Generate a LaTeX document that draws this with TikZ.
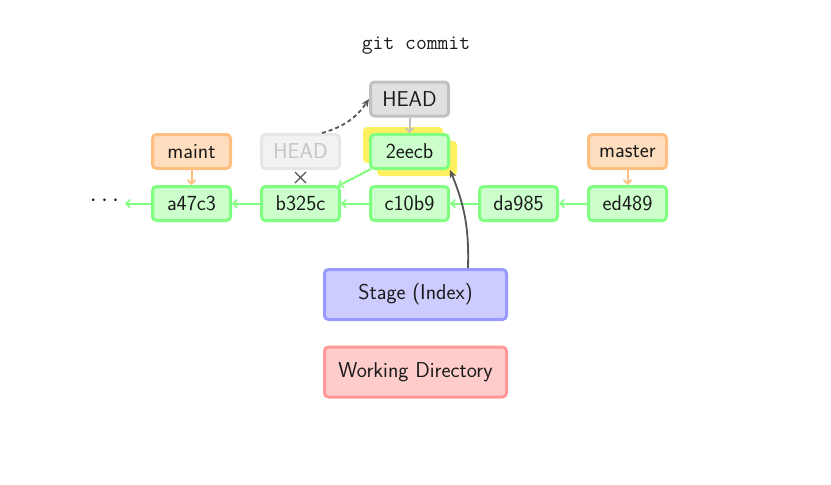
\documentclass[tikz,border=0pt]{standalone}
\usetikzlibrary{arrows.meta}
\renewcommand{\familydefault}{\sfdefault}
\definecolor{gB}{HTML}{80FF80}\definecolor{gF}{HTML}{CCFFCC}
\definecolor{oB}{HTML}{FFBF80}\definecolor{oF}{HTML}{FFDDBF}
\definecolor{hB}{HTML}{C0C0C0}\definecolor{hF}{HTML}{E0E0E0}
\definecolor{fB}{HTML}{E6E6E6}\definecolor{fF}{HTML}{F2F2F2}\definecolor{fT}{HTML}{C4C4C4}
\definecolor{bB}{HTML}{9999FF}\definecolor{bF}{HTML}{CCCCFF}
\definecolor{rB}{HTML}{FF9999}\definecolor{rF}{HTML}{FFCCCC}
\definecolor{yel}{HTML}{FFF060}
\definecolor{txt}{HTML}{1A1A1A}
\definecolor{dk}{HTML}{555555}
\tikzset{
  box/.style={rounded corners=4pt,line width=3pt,minimum width=78pt,minimum height=34pt,inner sep=0pt,text=txt,font=\fontsize{21.5}{24}\selectfont},
  commitbox/.style={box,draw=gB,fill=gF},
  branchbox/.style={box,draw=oB,fill=oF},
  headbox/.style={box,draw=hB,fill=hF},
  fadedbox/.style={box,draw=fB,fill=fF,text=fT},
  areabox/.style={box,minimum width=182pt,minimum height=50pt},
  barb/.style={-{Straight Barb[length=4pt,width=8pt,line width=1.6pt]}},
  glink/.style={color=gB,line width=2pt,barb},
  olink/.style={color=oB,line width=2pt,barb},
  hlink/.style={color=hB,line width=2pt,barb},
  dlink/.style={color=dk,line width=1.8pt,-{Stealth[length=8pt,width=7pt]}},
}
\begin{document}
\begin{tikzpicture}[x=1pt,y=-1pt]
\useasboundingbox (0,0) rectangle (831,485);
\node[font=\ttfamily\fontsize{21}{24}\selectfont,text=txt] (title) at (416,46) {git commit};
% yellow highlight behind 2eecb
\fill[yel,rounded corners=4pt] (363,127) rectangle (443,163);
\fill[yel,rounded corners=4pt] (377,141) rectangle (457,176);
\node[commitbox] (c2eecb) at (409.5,151.5) {2eecb};
\node[headbox] (head) at (409.5,99) {HEAD};
\node[fadedbox] (oldhead) at (300.5,151.5) {HEAD};
\node[branchbox] (maint) at (191.5,151.5) {maint};
\node[branchbox] (master) at (627.5,151.5) {master};
\node[commitbox] (a47c3) at (191.5,203.5) {a47c3};
\node[commitbox] (b325c) at (300.5,203.5) {b325c};
\node[commitbox] (c10b9) at (409.5,203.5) {c10b9};
\node[commitbox] (da985) at (518.5,203.5) {da985};
\node[commitbox] (ed489) at (627.5,203.5) {ed489};
\node[inner sep=0pt,text=txt,font=\fontsize{24.5}{26}\selectfont] (dots) at (104.5,200.5) {$\cdots$};
\node[areabox,draw=bB,fill=bF] (stage) at (415.5,294.5) {Stage (Index)};
\node[areabox,draw=rB,fill=rF] (work) at (415.5,372) {Working Directory};
\coordinate (cross) at (300.5,177.5);
\draw[dk,line width=1.2pt] ([shift={(-5.5,-5.5)}]cross) -- ([shift={(5.5,5.5)}]cross)
  ([shift={(-5.5,5.5)}]cross) -- ([shift={(5.5,-5.5)}]cross);
% links
\coordinate (dotsend) at (125,203.5);
\draw[glink] (a47c3.west) -- (dotsend);
\draw[glink] (b325c) -- (a47c3);
\draw[glink] (c10b9) -- (b325c);
\draw[glink] (da985) -- (c10b9);
\draw[glink] (ed489) -- (da985);
\draw[glink] ([shift={(2,-1)}]c2eecb.south west) -- ([shift={(-3,1)}]b325c.north east);
\draw[olink] (maint) -- (a47c3);
\draw[olink] (master) -- (ed489);
\draw[hlink] (head) -- (c2eecb);
\coordinate (oh) at (322,133);
\draw[dlink,dash pattern=on 4pt off 3pt] (oh) to[bend right=20] (head.west);
\coordinate (st) at (468,268);
\draw[dlink] (st) to[bend right=12] (c2eecb.south east);
\end{tikzpicture}
\end{document}
